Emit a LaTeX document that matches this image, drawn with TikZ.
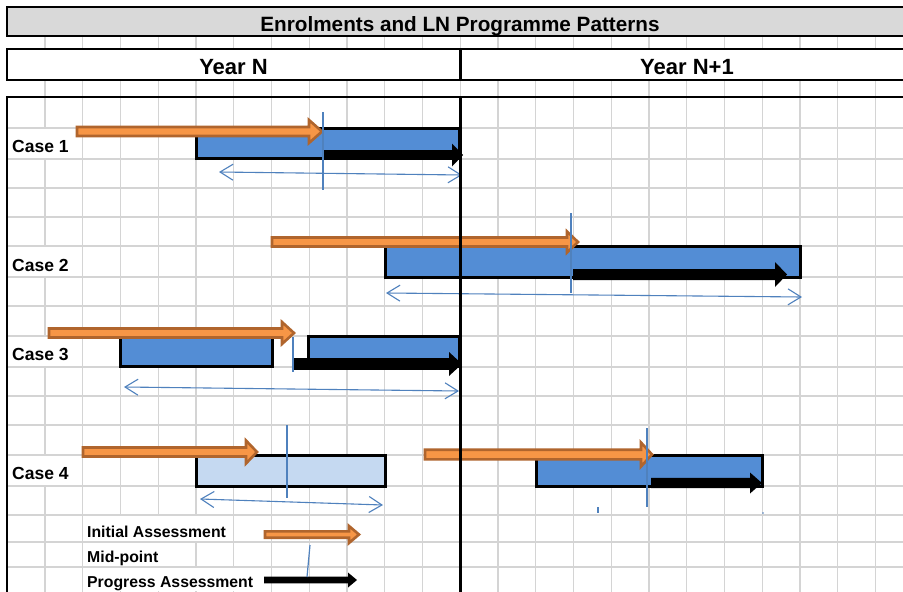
\documentclass[tikz,border=0pt]{standalone}
\usepackage{fontspec}
\setmainfont{Liberation Sans}
\usetikzlibrary{arrows.meta}
\definecolor{gridc}{HTML}{D4D4D4}
\definecolor{barblue}{HTML}{538DD5}
\definecolor{lightblue}{HTML}{C5D9F1}
\definecolor{orangefill}{HTML}{F79646}
\definecolor{orangeline}{HTML}{B0652D}
\definecolor{thinblue}{HTML}{4F81BD}
\definecolor{titlegray}{HTML}{D9D9D9}
% #1 style, #2 start x, #3 tip x, #4 centre y, #5 shaft half, #6 head half, #7 head length
\newcommand\myblockarrow[7]{\path[#1] (#2,{#4-#5}) -- ({#3-#7},{#4-#5}) -- ({#3-#7},{#4-#6}) -- (#3,#4) -- ({#3-#7},{#4+#6}) -- ({#3-#7},{#4+#5}) -- (#2,{#4+#5}) -- cycle;}
\begin{document}
\begin{tikzpicture}[x=1pt,y=-1pt,
  gridline/.style={draw=gridc,line width=1.3pt},
  border/.style={draw=black,line width=2.6pt},
  bar/.style={fill=barblue,draw=black,line width=3pt},
  lbar/.style={fill=lightblue,draw=black,line width=3pt},
  oarr/.style={fill=orangefill,draw=orangeline,line width=2.6pt,line join=miter},
  barr/.style={fill=black},
  midline/.style={draw=thinblue,line width=1.2pt},
  spanline/.style={draw=thinblue,line width=1.1pt,{Straight Barb[length=13pt,width=16pt]}-{Straight Barb[length=13pt,width=16pt]}},
  caselab/.style={font=\fontsize{17.5}{20}\selectfont\bfseries,anchor=base west,inner sep=0pt},
  leglab/.style={font=\fontsize{15.8}{18}\selectfont\bfseries,anchor=base west,inner sep=0pt},
  titlelab/.style={font=\fontsize{20.7}{24}\selectfont\bfseries,anchor=base,inner sep=0pt},
  yearlab/.style={font=\fontsize{22}{26}\selectfont\bfseries,anchor=base,inner sep=0pt}]
\useasboundingbox (0,0) rectangle (903,592);
\begin{scope}
\clip (0,0) rectangle (903,592);
\fill[white] (0,0) rectangle (903,592);
% grid
\foreach \k in {1,...,23} {
  \pgfmathsetmacro\xx{7.25+37.75*\k}
  \draw[gridline] (\xx,36) -- (\xx,49);
  \draw[gridline] (\xx,80) -- (\xx,97);
  \draw[gridline] (\xx,97) -- (\xx,600);
}
\foreach \yy in {128,159,188,217,246,277,306,336,367,396,425,455,486,515,542,567}
  \draw[gridline] (7,\yy) -- (910,\yy);
% gridlines hidden by overflowing text
\foreach \xx/\ya/\yb in {45/128/159, 45/246/277, 45/336/367, 45/455/486,
  120.5/515/542, 158.25/515/542, 196/515/542,
  120.5/542/567, 158.25/542/567,
  120.5/567/592, 158.25/567/592, 196/567/592, 233.75/567/592}
  \draw[white,line width=2pt] (\xx,{\ya+1}) -- (\xx,{\yb-1});
% header
\fill[titlegray] (7,7) rectangle (913,36);
\draw[border] (913,7) -- (7,7) -- (7,36) -- (913,36);
\draw[border] (913,49) -- (7,49) -- (7,80) -- (913,80);
\draw[border] (460.25,49) -- (460.25,80);
\draw[border] (913,97) -- (7,97) -- (7,600);
\node[titlelab] (title) at (460,31) {Enrolments and LN Programme Patterns};
\node[yearlab] (yearN) at (233.5,74) {Year N};
\node[yearlab] (yearN1) at (687,74) {Year N+1};
% bars
\draw[bar] (196,128) rectangle (459.5,158);
\draw[bar] (385,246.5) rectangle (800,277);
\draw[bar] (120.5,337) rectangle (272,366.5);
\draw[bar] (308,336) rectangle (459.5,366);
\draw[lbar] (196,455) rectangle (385,486);
\draw[bar] (536,455) rectangle (762,486);
% arrows
\myblockarrow{oarr}{77}{322}{131.5}{4.5}{11.5}{13}
\myblockarrow{barr}{323}{463}{155}{4.8}{11.5}{11}
\myblockarrow{oarr}{272}{578}{242}{4.5}{10.5}{11}
\myblockarrow{barr}{573}{787}{274.5}{5.5}{12.5}{12}
\myblockarrow{oarr}{49}{294}{333}{4.5}{11}{12}
\myblockarrow{barr}{293}{462}{364}{5.8}{12}{13}
\myblockarrow{oarr}{83}{257}{452}{4.5}{11.5}{11}
\myblockarrow{oarr}{425}{652}{454.5}{4.8}{12}{11}
\myblockarrow{barr}{651}{762}{483}{5.2}{10.5}{12}
\myblockarrow{oarr}{265}{359}{534.5}{3.2}{8.5}{10}
\myblockarrow{barr}{264}{357}{580}{3.3}{7.5}{9}
% mid-points
\draw[midline] (323,112) -- (323,190);
\draw[midline] (571,213) -- (571,293);
\draw[midline] (293,337) -- (293,372);
\draw[midline] (287,425) -- (287,498);
\draw[midline] (647,428) -- (647,507);
\draw[midline] (310,545) -- (307,577);
% spans
\coordinate (s1a) at (219,172); \coordinate (s1b) at (462,175);
\coordinate (s2a) at (386,293); \coordinate (s2b) at (802,297);
\coordinate (s3a) at (124,387); \coordinate (s3b) at (459,391);
\coordinate (s4a) at (200,499); \coordinate (s4b) at (383,505);
\draw[spanline] (s1a) -- (s1b);
\draw[spanline] (s2a) -- (s2b);
\draw[spanline] (s3a) -- (s3b);
\draw[spanline] (s4a) -- (s4b);
\draw[midline] (598,507) -- (598,513);
\fill[thinblue] (763,513) circle (0.8);
% divider on top
\draw[border] (460.25,97) -- (460.25,600);
% labels
\node[caselab] (c1) at (12,152) {Case 1};
\node[caselab] (c2) at (12,271) {Case 2};
\node[caselab] (c3) at (12,360) {Case 3};
\node[caselab] (c4) at (12,479) {Case 4};
\node[leglab] (l1) at (87,537) {Initial Assessment};
\node[leglab] (l2) at (87,562) {Mid-point};
\node[leglab] (l3) at (87,587) {Progress Assessment};
\end{scope}
\end{tikzpicture}
\end{document}
